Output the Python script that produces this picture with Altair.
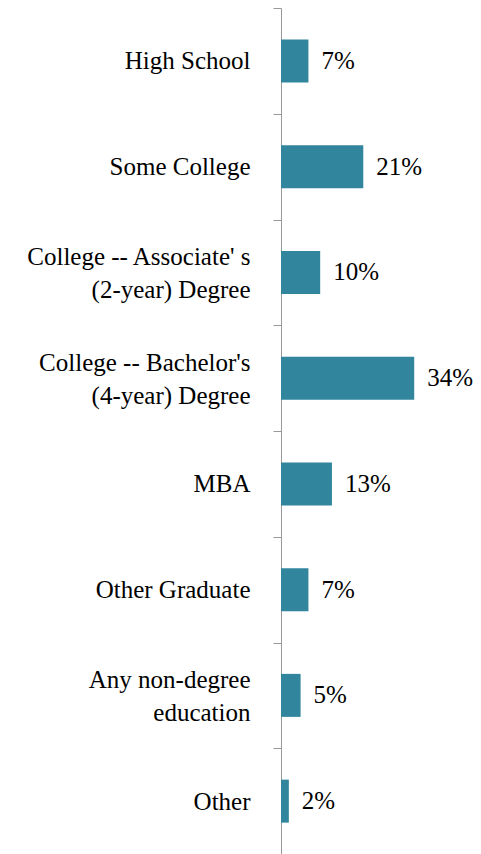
import altair as alt
import pandas as pd

categories = [
    "High School",
    "Some College",
    "College -- Associate' s|(2-year) Degree",
    "College -- Bachelor's|(4-year) Degree",
    "MBA",
    "Other Graduate",
    "Any non-degree|education",
    "Other",
]
values = [7, 21, 10, 34, 13, 7, 5, 2]

df = pd.DataFrame({"cat": categories, "val": values})
df["lab"] = df["val"].astype(str) + "%"

FONT = "Liberation Serif"
FS = 25

y = alt.Y(
    "cat:N",
    sort=categories,
    scale=alt.Scale(paddingInner=0, paddingOuter=0),
    axis=alt.Axis(
        title=None,
        labelExpr="split(datum.label, '|')",
        labelFont=FONT,
        labelFontSize=FS,
        labelColor="#000000",
        labelLineHeight=33,
        labelPadding=23,
        labelLimit=300,
        labelOffset={
            "condition": {"test": "indexof(datum.label, '|') >= 0", "value": -16},
            "value": 0,
        },
        tickBand="extent",
        tickSize=8,
        tickColor="#999999",
        domainColor="#999999",
        grid=False,
    ),
)
x = alt.X("val:Q", scale=alt.Scale(domain=[0, 49]), axis=None)

bars = alt.Chart(df).mark_bar(color="#31859C", size=43).encode(y=y, x=x)
text = alt.Chart(df).mark_text(
    align="left", baseline="middle", dx=13, font=FONT, fontSize=FS, color="#000000"
).encode(y=y, x=x, text="lab:N")

chart = (
    (bars + text)
    .properties(
        width=192,
        height=846,
        autosize=alt.AutoSizeParams(type="none"),
        padding={"left": 273, "top": 0, "right": 0, "bottom": 0},
    )
    .configure_view(stroke=None)
)

chart.save("out.html", embed_options={"renderer": "svg", "actions": False})
